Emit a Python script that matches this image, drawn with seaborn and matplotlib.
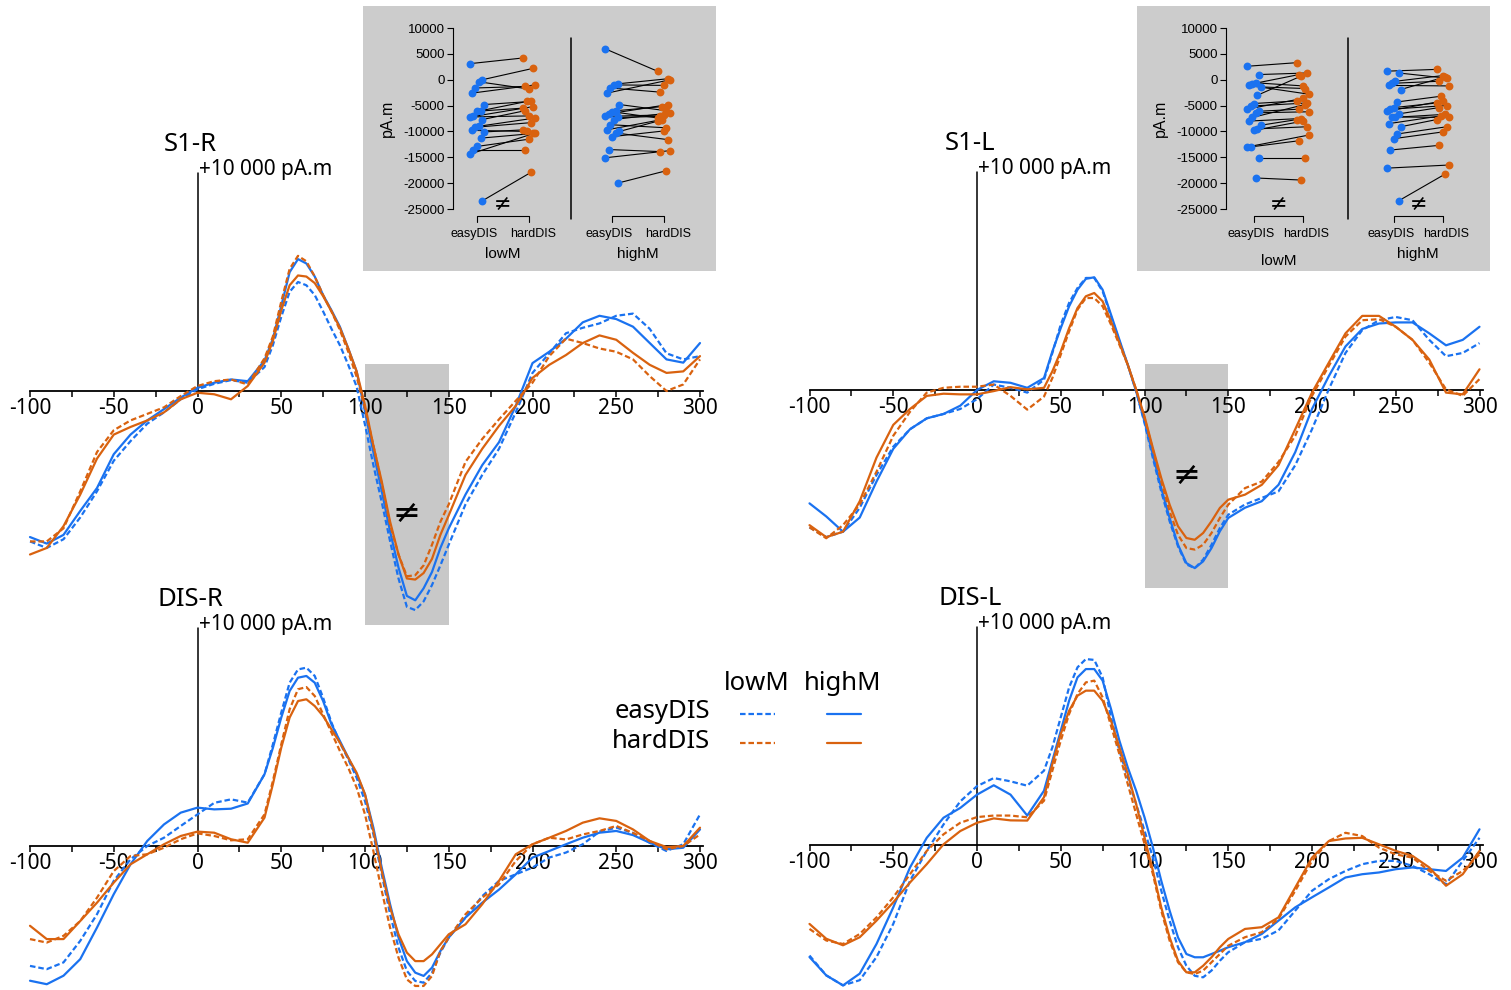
import numpy as np
import pandas as pd
import matplotlib
matplotlib.use('Agg')
import matplotlib.pyplot as plt
from matplotlib.lines import Line2D
import seaborn as sns

W, H = 1511, 990
BLUE = '#1a72f0'
ORANGE = '#d9620f'
SHADE = '#c8c8c8'
INSET_BG = '#cccccc'

# sample times (ms): 10 ms steps, 5 ms steps around the main peak and trough
times = list(range(-100, 31, 10)) + list(range(40, 151, 5)) + list(range(160, 301, 10))

# source waveforms, in units of 1000 pA.m (rows: -100..30 / 40..150 / 160..300)
s1r_easy_low = [-6.9, -7.2, -6.8, -5.8, -4.6, -3.2, -2.3, -1.5, -0.98, -0.38, 0.08, 0.33, 0.5, 0.38,
                1.1, 2.1, 3.4, 4.55, 5.0, 4.85, 4.4, 3.65, 2.85, 2.1, 1.2, 0.2, -1.55, -3.4, -5.1, -6.9, -8.6, -9.9, -10.05, -9.65, -8.9, -8.0, -7.05,
                -5.2, -3.85, -2.65, -0.98, 0.83, 1.73, 2.65, 2.9, 3.1, 3.45, 3.55, 2.85, 1.73, 1.45, 1.6]
s1r_easy_high = [-6.7, -7.0, -6.6, -5.5, -4.45, -2.9, -2.0, -1.35, -0.83, -0.3, 0.15, 0.38, 0.53, 0.45,
                 1.4, 2.4, 3.9, 5.45, 6.05, 5.85, 5.25, 4.4, 3.7, 2.95, 1.95, 0.9, -0.95, -2.8, -4.6, -6.45, -8.1, -9.4, -9.6, -9.05, -8.3, -7.2, -6.3,
                 -4.75, -3.4, -2.35, -0.68, 1.28, 1.8, 2.4, 3.15, 3.45, 3.3, 2.95, 2.2, 1.45, 1.3, 2.2]
s1r_hard_low = [-6.9, -6.9, -6.3, -4.6, -2.8, -1.8, -1.35, -1.05, -0.75, -0.23, 0.23, 0.45, 0.53, 0.3,
                1.5, 2.5, 4.1, 5.6, 6.2, 5.95, 5.25, 4.4, 3.65, 2.8, 1.8, 0.65, -0.8, -2.5, -4.25, -6.15, -7.5, -8.5, -8.45, -8.0, -7.05, -6.0, -5.2,
                -3.25, -2.2, -1.3, -0.45, 0.38, 1.6, 2.4, 2.2, 1.95, 1.8, 1.45, 0.68, 0.0, 0.3, 1.45]
s1r_hard_high = [-7.5, -7.2, -6.2, -4.75, -3.1, -2.0, -1.65, -1.35, -0.98, -0.38, -0.08, -0.15, -0.38, 0.23,
                 1.3, 2.3, 3.7, 4.85, 5.3, 5.25, 4.95, 4.35, 3.65, 2.9, 1.95, 0.9, -0.65, -2.5, -4.15, -6.0, -7.5, -8.6, -8.65, -8.35, -7.7, -6.6, -5.7,
                 -3.85, -2.65, -1.6, -0.68, 0.6, 1.2, 1.65, 2.2, 2.55, 2.35, 1.75, 1.2, 0.83, 0.9, 1.6]

s1l_easy_low = [-6.3, -6.75, -6.5, -5.4, -3.9, -2.6, -1.8, -1.3, -1.1, -0.87, -0.42, 0.25, 0.1, -0.12,
                0.47, 1.7, 3.0, 4.0, 4.68, 5.14, 5.14, 4.53, 3.38, 2.23, 1.16, -0.06, -1.51, -3.12, -4.66, -6.02, -7.17, -8.0, -8.17, -7.78, -7.1, -6.33, -5.72,
                -5.25, -4.95, -4.65, -3.45, -1.8, 0.03, 1.7, 2.75, 3.2, 3.35, 3.2, 2.3, 1.55, 1.7, 2.15]
s1l_easy_high = [-5.2, -5.8, -6.5, -5.85, -4.2, -2.7, -1.8, -1.3, -1.1, -0.72, 0.0, 0.4, 0.33, 0.1,
                 0.55, 1.77, 2.84, 3.84, 4.6, 5.1, 5.17, 4.6, 3.46, 2.31, 1.16, -0.06, -1.44, -2.98, -4.5, -5.87, -7.1, -7.94, -8.17, -7.86, -7.25, -6.48, -5.87,
                 -5.4, -5.1, -4.35, -2.85, -0.87, 0.63, 2.0, 2.8, 3.05, 3.1, 3.1, 2.6, 2.05, 2.3, 2.9]
s1l_hard_low = [-6.3, -6.8, -6.2, -5.25, -3.75, -2.1, -1.0, -0.12, 0.1, 0.15, 0.15, 0.25, -0.27, -0.9,
                -0.3, 0.55, 1.62, 2.69, 3.69, 4.22, 4.22, 3.84, 3.0, 2.08, 1.16, 0.02, -1.28, -2.74, -4.19, -5.57, -6.64, -7.25, -7.32, -7.1, -6.56, -5.87, -5.26,
                -4.5, -4.2, -3.3, -2.1, -0.27, 1.1, 2.45, 3.2, 3.25, 2.9, 2.3, 1.25, 0.03, -0.27, 0.5]
s1l_hard_high = [-6.2, -6.75, -6.5, -5.1, -3.1, -1.6, -0.87, -0.27, -0.17, -0.2, -0.2, -0.05, 0.13, 0.03,
                 0.1, 0.86, 1.77, 2.84, 3.76, 4.3, 4.45, 4.07, 3.15, 2.16, 1.16, 0.02, -1.21, -2.66, -4.04, -5.26, -6.25, -6.79, -6.87, -6.56, -6.02, -5.41, -5.03,
                 -4.8, -4.35, -3.45, -1.8, -0.12, 1.25, 2.6, 3.4, 3.4, 2.9, 2.3, 1.4, -0.12, -0.2, 0.95]

disr_easy_low = [-5.5, -5.65, -5.34, -4.35, -3.13, -1.6, -0.61, 0.0, 0.38, 0.92, 1.45, 1.98, 2.14, 1.99,
                 3.29, 4.66, 6.12, 7.49, 8.1, 8.18, 7.8, 6.8, 5.66, 4.74, 3.98, 3.13, 2.06, 0.54, -1.3, -3.13, -4.66, -5.73, -6.19, -6.27, -5.81, -4.89, -4.2,
                 -3.28, -2.3, -1.6, -1.3, -0.99, -0.53, -0.3, 0.08, 0.66, 0.84, 0.6, 0.15, -0.23, 0.08, 1.45]
disr_easy_high = [-6.18, -6.34, -5.95, -5.19, -3.74, -2.21, -0.84, 0.23, 0.99, 1.53, 1.76, 1.68, 1.71, 1.95,
                  3.29, 4.5, 5.89, 7.11, 7.72, 7.8, 7.49, 6.65, 5.58, 4.82, 4.05, 3.29, 2.37, 0.84, -0.99, -2.68, -4.2, -5.28, -5.81, -5.96, -5.58, -4.82, -4.2,
                  -3.28, -2.6, -2.0, -1.3, -0.53, -0.23, 0.08, 0.38, 0.61, 0.69, 0.5, 0.15, -0.15, -0.08, 0.76]
disr_hard_low = [-4.27, -4.43, -4.12, -3.44, -2.37, -1.15, -0.46, -0.38, -0.08, 0.31, 0.58, 0.46, 0.26, 0.31,
                 1.45, 2.98, 4.66, 6.27, 7.19, 7.29, 6.88, 6.04, 5.2, 4.36, 3.59, 2.68, 1.45, -0.23, -2.06, -3.75, -5.12, -6.12, -6.42, -6.42, -5.96, -4.82, -4.2,
                 -3.13, -2.37, -1.76, -0.69, 0.08, 0.38, 0.3, 0.53, 0.69, 0.92, 0.6, 0.23, -0.15, 0.0, 0.53]
disr_hard_high = [-3.66, -4.27, -4.27, -3.44, -2.6, -1.68, -0.84, -0.38, 0.08, 0.46, 0.66, 0.61, 0.31, 0.15,
                  1.3, 2.83, 4.51, 5.89, 6.65, 6.73, 6.42, 5.96, 5.35, 4.74, 4.05, 3.36, 2.37, 0.69, -1.15, -2.83, -4.05, -4.89, -5.28, -5.28, -4.97, -4.51, -4.05,
                  -3.59, -2.67, -1.6, -0.38, 0.08, 0.38, 0.69, 1.07, 1.27, 1.15, 0.76, 0.23, -0.05, 0.0, 0.84]

disl_easy_low = [-5.07, -5.98, -6.44, -6.2, -5.14, -3.62, -1.64, -0.27, 0.94, 2.0, 2.7, 3.07, 2.92, 2.72,
                 3.41, 4.48, 5.86, 7.23, 8.15, 8.53, 8.49, 7.69, 5.86, 4.33, 3.1, 1.88, 0.66, -0.57, -2.09, -3.47, -4.69, -5.54, -6.0, -6.07, -5.76, -5.31, -4.92,
                 -4.46, -4.3, -3.92, -3.01, -2.1, -1.57, -1.19, -0.88, -0.73, -0.73, -0.96, -1.34, -1.8, -0.73, 0.33]
disl_easy_high = [-5.14, -5.98, -6.44, -5.9, -4.54, -2.86, -1.03, 0.33, 1.25, 1.7, 2.31, 2.74, 2.31, 1.35,
                  2.49, 3.87, 5.24, 6.62, 7.69, 8.07, 8.07, 7.54, 6.24, 4.79, 3.56, 2.49, 1.27, -0.11, -1.64, -3.01, -4.24, -5.0, -5.15, -5.15, -5.0, -4.85, -4.69,
                  -4.46, -4.08, -3.47, -2.86, -2.4, -1.95, -1.49, -1.34, -1.26, -1.11, -1.03, -1.11, -1.19, -0.58, 0.72]
disl_hard_low = [-3.85, -4.38, -4.54, -4.08, -3.32, -2.4, -1.34, -0.27, 0.49, 1.02, 1.28, 1.35, 1.35, 1.27,
                 2.03, 3.41, 4.79, 6.01, 6.93, 7.46, 7.54, 6.77, 5.47, 4.17, 2.8, 1.42, 0.05, -1.33, -3.01, -4.39, -5.38, -5.84, -5.92, -5.76, -5.38, -5.0, -4.62,
                 -4.23, -4.0, -3.39, -2.1, -0.73, 0.18, 0.56, 0.41, -0.12, -0.43, -0.58, -1.19, -1.64, -1.19, -0.43]
disl_hard_high = [-3.62, -4.3, -4.6, -4.23, -3.47, -2.63, -1.72, -0.88, 0.03, 0.64, 1.02, 1.22, 1.13, 1.12,
                  2.19, 3.72, 5.09, 6.16, 6.85, 7.08, 7.08, 6.62, 5.7, 4.48, 3.26, 1.88, 0.35, -1.18, -2.86, -4.24, -5.31, -5.84, -5.84, -5.54, -5.15, -4.69, -4.31,
                  -3.85, -3.77, -3.32, -1.95, -0.58, 0.18, 0.3, 0.33, 0.03, -0.27, -0.5, -1.03, -1.87, -1.34, -0.27]

# inset amplitudes (pA.m), one pair per subject: easyDIS -> hardDIS
s1r_lowM_easy = [3100, 0, -400, -1600, -2600, -4800, -6000, -6100, -7100, -7200, -7700, -9000, -9200, -9800, -10100, -11300, -12900, -13600, -14400, -23400]
s1r_lowM_hard = [4200, 2200, -1800, -1300, -1000, -4200, -4200, -5500, -5200, -7000, -6000, -7400, -8300, -10000, -9700, -10400, -11500, -13600, -10300, -17900]
s1r_highM_easy = [6000, -800, -1000, -1600, -2600, -4800, -6000, -6200, -6600, -7100, -7300, -7700, -8700, -9700, -10000, -10300, -11000, -13500, -15100, -20000]
s1r_highM_hard = [1600, 200, -1100, -2400, 0, -6000, -5200, -7400, -4800, -6800, -7100, -6400, -9300, -7700, -8000, -11600, -9900, -13900, -13700, -17600]

s1l_lowM_easy = [2600, 1000, -600, -800, -1100, -1400, -3000, -4600, -5100, -5700, -6100, -6400, -7300, -8000, -8800, -9500, -9800, -13000, -13000, -15200, -19000]
s1l_lowM_hard = [3300, 1300, -1200, 1000, -2800, -1700, 700, -4100, -4500, -3600, -5700, -6200, -4800, -7500, -7700, -9100, -8000, -11800, -10700, -15200, -19400]
s1l_highM_easy = [1650, 1300, -300, -700, -1100, -1900, -4300, -5400, -5700, -6100, -6600, -7200, -7300, -8500, -9100, -10500, -11400, -13600, -17100, -23400]
s1l_highM_hard = [2000, 300, 800, -300, -1200, 500, -3200, -4500, -5000, -4100, -5400, -7300, -6700, -7000, -7700, -9100, -10100, -12700, -16500, -18300]

inset_yticks = [10000, 5000, 0, -5000, -10000, -15000, -20000, -25000]

sns.set_theme(style='white')
plt.rcParams['font.family'] = ['Noto Sans', 'DejaVu Sans']
plt.rcParams['axes.unicode_minus'] = False
plt.rcParams['text.color'] = 'black'
INSET_FONT = ['Liberation Sans', 'DejaVu Sans']
SYM_FONT = ['DejaVu Sans']

fig = plt.figure(figsize=(W / 100, H / 100), dpi=100)


def px_rect(x0, y0, x1, y1):
    return [x0 / W, 1 - y1 / H, (x1 - x0) / W, (y1 - y0) / H]


def fig_xy(x, y):
    return x / W, 1 - y / H


PX_MS = 1.675   # pixels per ms
PX_K = 21.8     # pixels per 1000 pA.m
XLIM = (-102, 306)
YTOP = 12.5
DASH = (2.5, 1.3)


def wave_panel(title, zero_x, base_y, ylo, easy_low, easy_high, hard_low, hard_high, shade=None):
    x0 = zero_x + XLIM[0] * PX_MS
    x1 = zero_x + XLIM[1] * PX_MS
    ax = fig.add_axes(px_rect(x0, base_y - YTOP * PX_K, x1, base_y - ylo * PX_K))
    ax.patch.set_alpha(0)
    ax.set_axisbelow(False)

    df = pd.concat([
        pd.DataFrame({'time': times, 'amp': easy_low, 'dis': 'easyDIS', 'load': 'lowM'}),
        pd.DataFrame({'time': times, 'amp': easy_high, 'dis': 'easyDIS', 'load': 'highM'}),
        pd.DataFrame({'time': times, 'amp': hard_low, 'dis': 'hardDIS', 'load': 'lowM'}),
        pd.DataFrame({'time': times, 'amp': hard_high, 'dis': 'hardDIS', 'load': 'highM'}),
    ])

    if shade is not None:
        lo, hi, _ = shade
        ax.fill_between([100, 150], lo, hi, color=SHADE, lw=0, zorder=1)

    sns.lineplot(data=df, x='time', y='amp', hue='dis', style='load',
                 hue_order=['easyDIS', 'hardDIS'], style_order=['lowM', 'highM'],
                 palette={'easyDIS': BLUE, 'hardDIS': ORANGE},
                 dashes={'lowM': DASH, 'highM': ''},
                 estimator=None, errorbar=None, legend=False, lw=1.6, ax=ax, zorder=3)

    ax.set_xlim(*XLIM)
    ax.set_ylim(ylo, YTOP)
    for side in ['top', 'right', 'left']:
        ax.spines[side].set_visible(False)
    ax.spines['bottom'].set_position(('data', 0))
    ax.spines['bottom'].set_bounds(-100, 302)
    ax.spines['bottom'].set_color('black')
    ax.spines['bottom'].set_linewidth(1.3)
    ax.set_xticks(range(-100, 301, 50))
    ax.set_xticks(range(-75, 300, 50), minor=True)
    ax.tick_params(axis='x', which='both', bottom=True, direction='out', length=4, width=1.1,
                   color='black', pad=1, labelsize=15, labelcolor='black')
    ax.set_yticks([])
    ax.set_xlabel('')
    ax.set_ylabel('')

    # scale bar
    ax.plot([0, 0], [0, 10], color='black', lw=1.1, zorder=2)
    ax.text(0.6, 10.15, '+10 000 pA.m', fontsize=15, ha='left', va='center')
    ax.text(-4, 11.3, title, fontsize=18.5, ha='center', va='center')
    if shade is not None:
        ax.text(125, shade[2], '\u2260', fontsize=24, ha='center', va='center', family=SYM_FONT, zorder=4)
    return ax


wave_panel('S1-R', 197.5, 391, -11.2, s1r_easy_low, s1r_easy_high, s1r_hard_low, s1r_hard_high,
           shade=(-10.73, 1.24, -5.6))
wave_panel('S1-L', 977, 390, -11.2, s1l_easy_low, s1l_easy_high, s1l_hard_low, s1l_hard_high,
           shade=(-9.08, 1.19, -3.9))
wave_panel('DIS-R', 197.5, 846, -6.7, disr_easy_low, disr_easy_high, disr_hard_low, disr_hard_high)
wave_panel('DIS-L', 977, 845, -6.7, disl_easy_low, disl_easy_high, disl_hard_low, disl_hard_high)


def inset(box, yaxis_x, col0_px, unit_px, cols, groups, neq, group_label_y):
    bg = fig.add_axes(px_rect(*box))
    bg.set_facecolor(INSET_BG)
    bg.set_xticks([])
    bg.set_yticks([])
    for s in bg.spines.values():
        s.set_visible(False)

    left_u = (yaxis_x - col0_px) / unit_px
    right_u = (box[2] - 12 - col0_px) / unit_px
    ax = fig.add_axes(px_rect(yaxis_x, 28, box[2] - 12, 209))
    ax.patch.set_alpha(0)
    ax.set_xlim(left_u, right_u)
    ax.set_ylim(-25000, 10000)

    for gi, (easy, hard) in enumerate(groups):
        xe, xh = cols[2 * gi], cols[2 * gi + 1]
        n = len(easy)
        jit_e = (((np.arange(n) * 7) % 9) - 4) / 4 * 0.14
        jit_h = (((np.arange(n) * 5) % 7) - 3) / 3 * 0.12
        for i in range(n):
            ax.plot([xe + jit_e[i], xh + jit_h[i]], [easy[i], hard[i]], color='black', lw=0.8, zorder=2)
        sns.scatterplot(x=xe + jit_e, y=easy, color=BLUE, s=32, linewidth=0, ax=ax, zorder=3, clip_on=False)
        sns.scatterplot(x=xh + jit_h, y=hard, color=ORANGE, s=32, linewidth=0, ax=ax, zorder=3, clip_on=False)

        # R-style bracket axis under each group
        ax.plot([xe, xe, xh, xh], [-27500, -26300, -26300, -27500], color='black', lw=0.8, clip_on=False)
        ax.text(xe - 0.05, -29800, 'easyDIS', fontsize=9, ha='center', va='center', family=INSET_FONT)
        ax.text(xh + 0.07, -29800, 'hardDIS', fontsize=9, ha='center', va='center', family=INSET_FONT)
        ax.text((xe + xh) / 2, group_label_y[gi], ['lowM', 'highM'][gi], fontsize=11,
                ha='center', va='center', family=INSET_FONT)
        if neq[gi]:
            ax.text((xe + xh) / 2, -24000, '\u2260', fontsize=15, ha='center', va='center', family=SYM_FONT)

    sep = (cols[1] + cols[2]) / 2
    ax.plot([sep, sep], [8000, -27000], color='black', lw=1.1, clip_on=False)

    for side in ['top', 'right', 'bottom']:
        ax.spines[side].set_visible(False)
    ax.spines['left'].set_color('black')
    ax.spines['left'].set_linewidth(0.8)
    ax.set_xticks([])
    ax.set_yticks(inset_yticks)
    ax.set_yticklabels([str(v) for v in inset_yticks], family=INSET_FONT)
    ax.tick_params(axis='y', left=True, direction='out', length=4, width=0.8, color='black',
                   pad=2, labelsize=9.5, labelcolor='black')
    fx, fy = fig_xy(yaxis_x - 66, 118)
    fig.text(fx, fy, 'pA.m', fontsize=11.5, rotation=90, ha='center', va='center', family=INSET_FONT)


inset((363, 6, 716, 271), 453, 477, 52, [0, 1, 2.6, 3.6],
      [(s1r_lowM_easy, s1r_lowM_hard), (s1r_highM_easy, s1r_highM_hard)],
      [True, False], [-33700, -33700])
inset((1137, 6, 1490, 271), 1226, 1254, 49, [0, 1, 2.85, 3.85],
      [(s1l_lowM_easy, s1l_lowM_hard), (s1l_highM_easy, s1l_highM_hard)],
      [True, True], [-35000, -33700])

# legend: rows = distractor, columns = memory load
for label, x in [('lowM', 757), ('highM', 843)]:
    fx, fy = fig_xy(x, 683)
    fig.text(fx, fy, label, fontsize=18.5, ha='center', va='center')
for label, color, y in [('easyDIS', BLUE, 712), ('hardDIS', ORANGE, 741)]:
    fx, fy = fig_xy(710, y)
    fig.text(fx, fy, label, fontsize=18.5, ha='right', va='center')
    yy = 1 - (y + 2) / H
    fig.add_artist(Line2D([740 / W, 775 / W], [yy, yy], color=color, lw=1.6, dashes=DASH))
    fig.add_artist(Line2D([827 / W, 861 / W], [yy, yy], color=color, lw=1.6))

fig.savefig('out.png', dpi=100)
